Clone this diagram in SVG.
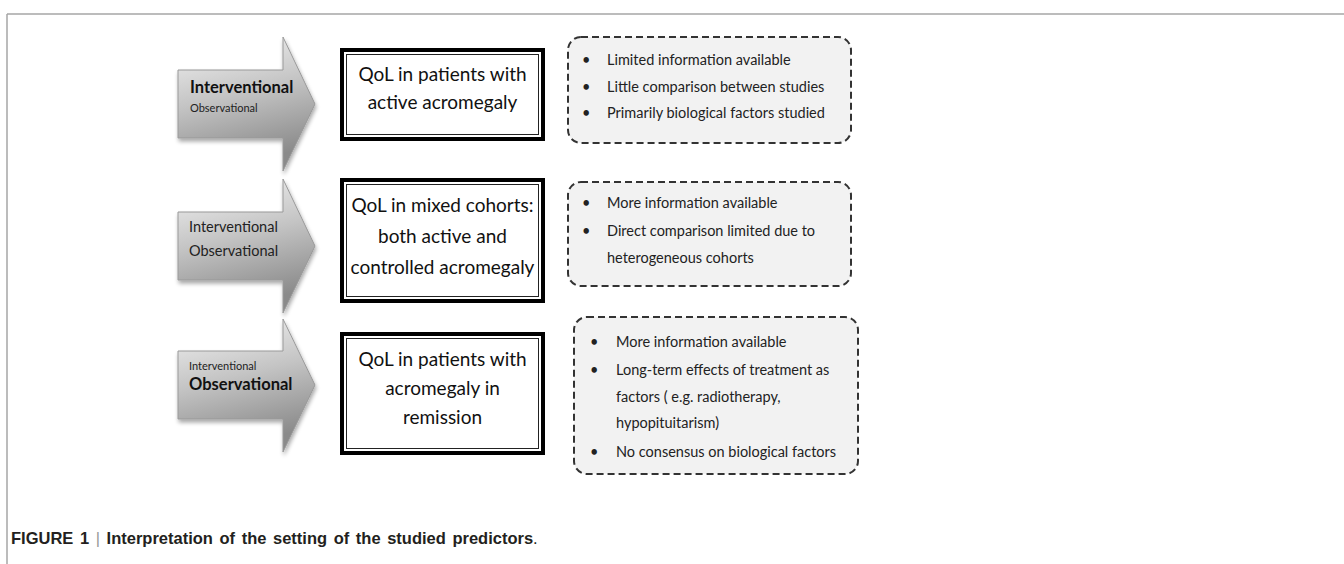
<svg xmlns="http://www.w3.org/2000/svg" width="1344" height="564" viewBox="0 0 1344 564">
<defs>
<linearGradient id="ag" x1="0" y1="0" x2="0.25" y2="1">
<stop offset="0" stop-color="#f4f4f4"/>
<stop offset="0.5" stop-color="#c4c4c4"/>
<stop offset="1" stop-color="#8a8a8a"/>
</linearGradient>
<filter id="sh" x="-10%" y="-10%" width="130%" height="130%">
<feGaussianBlur in="SourceAlpha" stdDeviation="2"/>
<feOffset dx="1" dy="3"/>
<feComponentTransfer><feFuncA type="linear" slope="0.35"/></feComponentTransfer>
<feMerge><feMergeNode/><feMergeNode in="SourceGraphic"/></feMerge>
</filter>
</defs>
<style>
.frame{stroke:#a6a6a6;stroke-width:1.5;fill:none}
.arrow{fill:url(#ag);stroke:#999;stroke-width:1;filter:url(#sh)}
.outer{fill:#fff;stroke:#000;stroke-width:4}
.inner{fill:none;stroke:#222;stroke-width:1}
.dash{fill:#f2f2f2;stroke:#333;stroke-width:2;stroke-dasharray:7 4}
.bt{font-family:Lato,"Open Sans",sans-serif;font-size:19px;fill:#111;text-anchor:middle}
.lt{font-family:Lato,"Open Sans",sans-serif;font-size:14.5px;fill:#222}
.ab{font-family:Lato,"Open Sans",sans-serif;font-size:16.5px;font-weight:bold;fill:#111}
.as{font-family:Lato,"Open Sans",sans-serif;font-size:11px;fill:#222}
.am{font-family:Lato,"Open Sans",sans-serif;font-size:14.5px;fill:#222}
.cap{font-family:"Liberation Sans",Arial,sans-serif;font-size:16.5px;font-weight:bold;fill:#231f20;word-spacing:2px}
</style>
<path class="frame" d="M7,14 H1344 M7,14 V564"/>

<g id="row1-arrow">
<path class="arrow" d="M178,70 H283 V37 L315,104 L283,171 V138 H178 Z"/>
<text class="ab" x="190" y="93">Interventional</text>
<text class="as" x="190" y="112">Observational</text>
</g>
<g id="row1-box">
<rect class="outer" x="342" y="50" width="201" height="89"/>
<rect class="inner" x="346.5" y="54.5" width="192" height="80"/>
<text class="bt" x="442.5" y="81">QoL in patients with</text>
<text class="bt" x="442.5" y="109">active acromegaly</text>
</g>
<g id="row1-notes">
<rect class="dash" x="568" y="37" width="283" height="106" rx="13"/>
<text class="lt" x="582" y="65">•</text><text class="lt" x="607" y="65">Limited information available</text>
<text class="lt" x="582" y="92">•</text><text class="lt" x="607" y="92">Little comparison between studies</text>
<text class="lt" x="582" y="118">•</text><text class="lt" x="607" y="118">Primarily biological factors studied</text>
</g>

<g id="row2-arrow">
<path class="arrow" d="M178,212 H283 V179 L315,246 L283,313 V280 H178 Z"/>
<text class="am" x="189" y="232">Interventional</text>
<text class="am" x="189" y="256">Observational</text>
</g>
<g id="row2-box">
<rect class="outer" x="342" y="180" width="201" height="121"/>
<rect class="inner" x="346.5" y="184.5" width="192" height="112"/>
<text class="bt" x="442.5" y="212">QoL in mixed cohorts:</text>
<text class="bt" x="442.5" y="243">both active and</text>
<text class="bt" x="442.5" y="274">controlled acromegaly</text>
</g>
<g id="row2-notes">
<rect class="dash" x="568" y="182" width="283" height="104" rx="13"/>
<text class="lt" x="582" y="208">•</text><text class="lt" x="607" y="208">More information available</text>
<text class="lt" x="582" y="236">•</text><text class="lt" x="607" y="236">Direct comparison limited due to</text>
<text class="lt" x="607" y="263">heterogeneous cohorts</text>
</g>

<g id="row3-arrow">
<path class="arrow" d="M178,351 H283 V319 L315,385 L283,452 V419 H178 Z"/>
<text class="as" x="189" y="370">Interventional</text>
<text class="ab" x="189" y="390">Observational</text>
</g>
<g id="row3-box">
<rect class="outer" x="342" y="334" width="201" height="119"/>
<rect class="inner" x="346.5" y="338.5" width="192" height="110"/>
<text class="bt" x="442.5" y="366">QoL in patients with</text>
<text class="bt" x="442.5" y="395">acromegaly in</text>
<text class="bt" x="442.5" y="424">remission</text>
</g>
<g id="row3-notes">
<rect class="dash" x="574" y="317" width="284" height="157" rx="13"/>
<text class="lt" x="590" y="347">•</text><text class="lt" x="616" y="347">More information available</text>
<text class="lt" x="590" y="375">•</text><text class="lt" x="616" y="375">Long-term effects of treatment as</text>
<text class="lt" x="616" y="402">factors ( e.g. radiotherapy,</text>
<text class="lt" x="616" y="428">hypopituitarism)</text>
<text class="lt" x="590" y="457">•</text><text class="lt" x="616" y="457">No consensus on biological factors</text>
</g>

<g id="connectors"></g>

<text class="cap" x="11" y="544">FIGURE 1 <tspan fill="#999" font-weight="normal">|</tspan> Interpretation of the setting of the studied predictors<tspan font-weight="normal">.</tspan></text>
</svg>
